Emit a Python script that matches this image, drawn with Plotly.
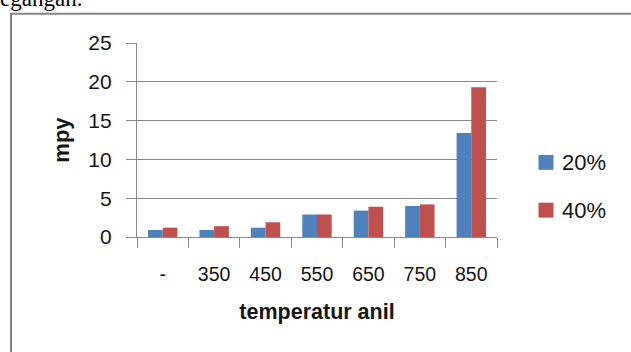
import plotly.graph_objects as go

categories = ["-", "350", "450", "550", "650", "750", "850"]
series_names = ["20%", "40%"]
values_20 = [0.9, 0.9, 1.2, 2.9, 3.4, 4.0, 13.4]
values_40 = [1.2, 1.4, 1.9, 2.9, 3.9, 4.2, 19.3]
colors = ["#4F81BD", "#C0504D"]
y_ticks = [0, 5, 10, 15, 20, 25]

W, H = 631, 352
L, R, T, B = 137, 497, 42.5, 237.5  # plot area in pixels


def px(x):
    return (x - L) / (R - L)


def py(y):
    return (B - y) / (B - T)


fig = go.Figure()
for name, vals, col in zip(series_names, [values_20, values_40], colors):
    fig.add_trace(go.Bar(x=categories, y=vals, name=name, marker=dict(color=col, line=dict(width=0)),
                         showlegend=False))

txt = "#141414"
grid = "#8a8a8a"
fig.update_layout(
    width=W, height=H,
    margin=dict(l=L, r=W - R, t=T, b=H - B, autoexpand=False),
    paper_bgcolor="white", plot_bgcolor="white",
    barmode="group", bargap=0.4286, bargroupgap=0,
    font=dict(family="Liberation Sans, Arial, sans-serif", color=txt, size=19),
    xaxis=dict(type="category", showline=True, linecolor=grid, linewidth=1.3,
               ticks="outside", tickson="boundaries", ticklen=10, tickcolor=grid, tickwidth=1.3,
               tickfont=dict(size=19.5, color=txt), ticklabelstandoff=19, showgrid=False,
               title=dict(text="<b>temperatur anil</b>", font=dict(size=21.5, color=txt), standoff=20),
               automargin=False),
    yaxis=dict(range=[0, 25], tickvals=y_ticks, showline=True, linecolor=grid, linewidth=1.3,
               ticks="outside", ticklen=10, tickcolor=grid, tickwidth=1.3,
               showgrid=True, gridcolor=grid, gridwidth=1.3, zeroline=False,
               tickfont=dict(size=21, color=txt), ticklabelstandoff=10,
               title=dict(text="<b>mpy</b>", font=dict(size=22, color=txt), standoff=12),
               automargin=False),
)

# outer chart border (left and top visible)
fig.add_shape(type="rect", xref="paper", yref="paper",
              x0=px(11), x1=px(645), y0=py(13), y1=py(370),
              line=dict(color="#858585", width=2), fillcolor="rgba(0,0,0,0)", layer="below")

# manual legend
legend_rows = [162.5, 210.5]
for name, col, yc in zip(series_names, colors, legend_rows):
    fig.add_shape(type="rect", xref="paper", yref="paper",
                  x0=px(538.5), x1=px(553.5), y0=py(yc + 7.5), y1=py(yc - 7.5),
                  line=dict(width=0), fillcolor=col)
    fig.add_annotation(xref="paper", yref="paper", x=px(560), y=py(yc), text=name,
                       xanchor="left", yanchor="middle", showarrow=False,
                       font=dict(size=22, color=txt))

# cut-off text from the surrounding document
fig.add_annotation(xref="paper", yref="paper", x=px(-2), y=py(-2), text="egangan.",
                   xanchor="left", yanchor="middle", showarrow=False,
                   font=dict(family="Liberation Serif, Times New Roman, serif", size=23, color="#000"))

fig.write_html("out.html")
